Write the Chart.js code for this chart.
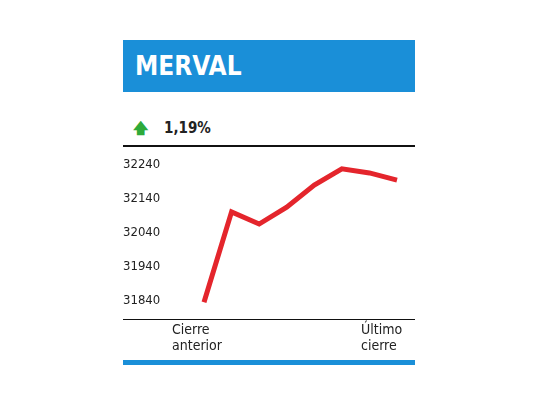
<!DOCTYPE html>
<html>
<head>
<meta charset="utf-8">
<script src="https://cdn.jsdelivr.net/npm/chart.js@4"></script>
<style>
body{margin:0;width:540px;height:405px;background:#fff;position:relative;font-family:"DejaVu Sans Condensed","DejaVu Sans",sans-serif;overflow:hidden}
#head{position:absolute;left:123px;top:40px;width:292px;height:52px;background:#1a8fd8;color:#fff;font:bold 26px "DejaVu Sans Condensed",sans-serif;line-height:52px;box-sizing:border-box;padding-left:12px}
#var{position:absolute;left:133px;top:117px;font:bold 15px "DejaVu Sans Condensed",sans-serif;color:#222}
#var span{color:#2eaa3a;margin-right:16px}
#topline{position:absolute;left:123px;top:145px;width:292px;height:2px;background:#111}
#botline{position:absolute;left:123px;top:319px;width:292px;height:1px;background:#111}
#bar{position:absolute;left:123px;top:360px;width:292px;height:5px;background:#1a8fd8}
.lab{position:absolute;top:321px;font-size:14px;line-height:16px;color:#222}
#wrap{position:absolute;left:123px;top:146px;width:292px;height:174px}
</style>
</head>
<body>
<div id="head">MERVAL</div>
<div id="var"><span>&#129093;</span>1,19%</div>
<div id="topline"></div>
<div id="wrap"><canvas id="c"></canvas></div>
<div id="botline"></div>
<div class="lab" style="left:172px">Cierre<br>anterior</div>
<div class="lab" style="left:361px">Último<br>cierre</div>
<div id="bar"></div>
<script>
const labels = ["1","2","3","4","5","6","7","8"];
const values = [31834, 32101, 32065, 32115, 32180, 32228, 32216, 32195];
const yTicks = [31840, 31940, 32040, 32140, 32240];

new Chart(document.getElementById("c"), {
  type: "line",
  data: {
    labels: labels,
    datasets: [{
      data: values,
      borderColor: "#e4252c",
      borderWidth: 5,
      pointRadius: 0,
      tension: 0,
      clip: false
    }]
  },
  options: {
    responsive: true,
    maintainAspectRatio: false,
    animation: false,
    layout: { padding: { left: 0, right: 18, top: 0, bottom: 0 } },
    plugins: { legend: { display: false }, tooltip: { enabled: false } },
    scales: {
      x: {
        offset: false,
        display: false
      },
      y: {
        min: 31831,
        max: 32246,
        grid: { display: false },
        border: { display: false },
        afterBuildTicks: s => { s.ticks = yTicks.map(v => ({ value: v })); },
        afterFit: s => { s.width = 81; },
        ticks: {
          crossAlign: "far",
          padding: 9,
          color: "#222",
          font: { family: "DejaVu Sans Condensed", size: 13 },
          callback: v => String(v)
        }
      }
    }
  }
});
</script>
</body>
</html>
